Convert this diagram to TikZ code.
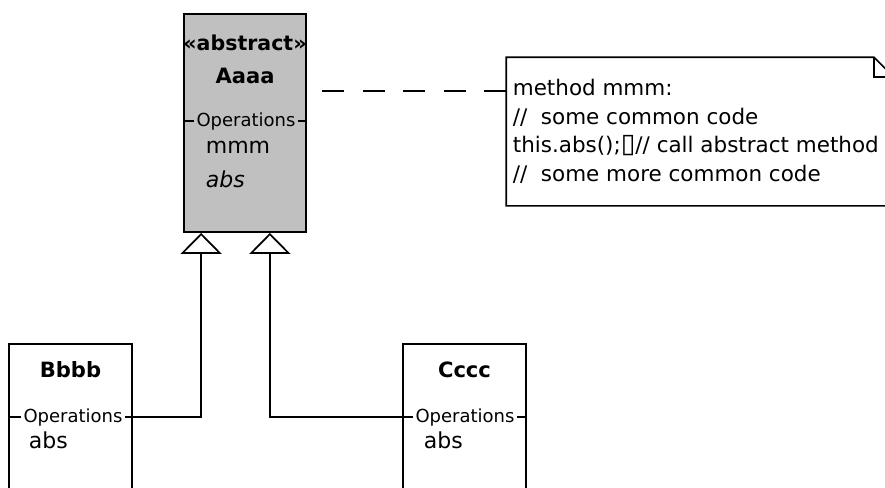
\documentclass[tikz,border=0pt]{standalone}
\usepackage{fontspec}
\setmainfont{DejaVu Sans}
\usetikzlibrary{arrows.meta}

\definecolor{umlgray}{HTML}{C0C0C0}

\begin{document}
\begin{tikzpicture}[x=0.75pt,y=-0.75pt,
  line width=1.3pt,
  classbox/.style={draw, line width=1.3pt, inner sep=0pt},
  stereo/.style={font=\fontsize{15.4}{18}\selectfont\bfseries, inner sep=0pt, anchor=base},
  classname/.style={font=\fontsize{15.8}{18}\selectfont\bfseries, inner sep=0pt, anchor=base},
  opslabel/.style={font=\fontsize{13.5}{16}\selectfont, inner sep=1.3pt, anchor=base},
  member/.style={font=\fontsize{16.5}{20}\selectfont, inner sep=0pt, anchor=base west},
  abstractmember/.style={member, font=\fontsize{16.5}{20}\selectfont\itshape},
  notetext/.style={font=\fontsize{16.1}{20}\selectfont, inner sep=0pt, anchor=base west},
  generalization/.style={-{Triangle[open, length=15.75pt, width=30.75pt]}, line width=1.3pt},
  notelink/.style={dash pattern=on 16.5pt off 13.9pt, line width=1.3pt}
]
\useasboundingbox (0,0) rectangle (885,487);
\clip (0,0) rectangle (885,487);

% abstract base class
\node[classbox, fill=umlgray, minimum width={122*0.75pt}, minimum height={218*0.75pt}] (aaaa) at (245,123) {};
\node[stereo] (aaaaStereo) at (245,50) {«abstract»};
\node[classname] (aaaaName) at (245,83) {Aaaa};
\node[opslabel] (opsA) at (246,126) {Operations};
\node[member] (mmm) at (205,153) {mmm};
\node[abstractmember] (absA) at (205,187) {abs};
\draw (aaaa.west |- opsA) -- (opsA.west);
\draw (opsA.east) -- (aaaa.east |- opsA);

% subclass Bbbb
\node[classbox, minimum width={123*0.75pt}, minimum height={160*0.75pt}] (bbbb) at (70.5,424) {};
\node[classname] (bbbbName) at (70.5,377) {Bbbb};
\node[opslabel] (opsB) at (73,422) {Operations};
\node[member] (absB) at (28,448) {abs};
\draw (bbbb.west |- opsB) -- (opsB.west);
\draw (opsB.east) -- (bbbb.east |- opsB);

% subclass Cccc
\node[classbox, minimum width={123*0.75pt}, minimum height={160*0.75pt}] (cccc) at (464.5,424) {};
\node[classname] (ccccName) at (464.5,377) {Cccc};
\node[opslabel] (opsC) at (465,422) {Operations};
\node[member] (absC) at (423,448) {abs};
\draw (cccc.west |- opsC) -- (opsC.west);
\draw (opsC.east) -- (cccc.east |- opsC);

% generalization arrows
\draw[generalization] (opsB -| bbbb.east) -| ([xshift=13.5pt]aaaa.south west);
\draw[generalization] (opsC -| cccc.west) -| ([xshift=-27.75pt]aaaa.south east);

% note with folded corner
\node[minimum width={386*0.75pt}, minimum height={147*0.75pt}, inner sep=0pt] (note) at (700,131.5) {};
\draw (note.north west) -- ([xshift=-15pt]note.north east) -- ([yshift=-15pt]note.north east)
  -- (note.south east) -- (note.south west) -- cycle;
\draw ([xshift=-15pt]note.north east) |- ([yshift=-15pt]note.north east);
\node[notetext] (n1) at (512,95) {method mmm:};
\node[notetext] (n2) at (512,124) {//\ \ some common code};
\node[notetext] (n3) at (512,152.5) {this.abs();{\fontsize{20}{20}\selectfont ▯}// call abstract method};
\node[notetext] (n4) at (512,181) {//\ \ some more common code};

% dashed link from class to note
\coordinate (linkY) at (0,91);
\draw[notelink] (note.west |- linkY) -- (aaaa.east |- linkY);
\end{tikzpicture}
\end{document}
